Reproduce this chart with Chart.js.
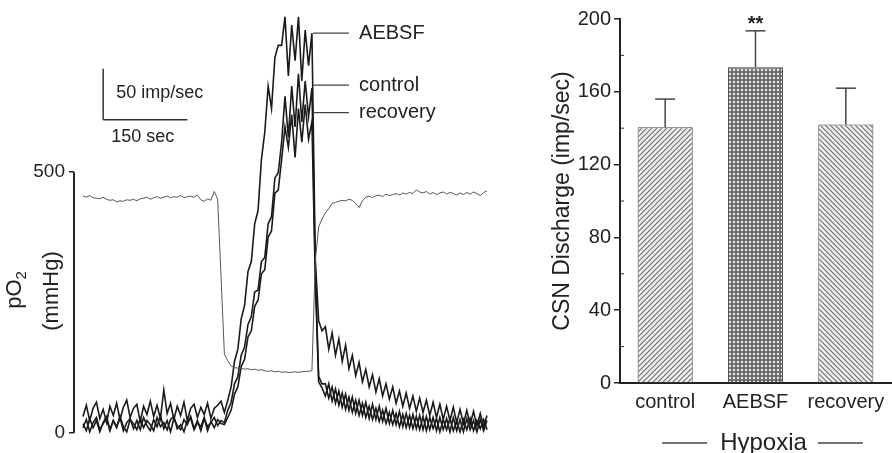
<!DOCTYPE html>
<html>
<head>
<meta charset="utf-8">
<script src="https://cdn.jsdelivr.net/npm/chart.js@4.4.1/dist/chart.umd.min.js"></script>
<style>
  body { margin: 0; background: #fff; }
  #wrap { position: relative; width: 892px; height: 453px; }
  #traceChart { position: absolute; left: 0; top: 0; }
  #barChart { position: absolute; left: 520px; top: 0; }
</style>
</head>
<body>
<div id="wrap">
  <canvas id="traceChart" width="500" height="453"></canvas>
  <canvas id="barChart" width="372" height="453"></canvas>
</div>
<script>
// ---- left panel: recordings, one sample every 6 s ----
const SAMPLE_SEC = 6;

// pO2 in mmHg
const po2 = [
  454, 452, 455, 451, 450, 449, 452, 448, 446, 447, 443, 445, 444, 447, 446, 448, 445, 449, 450, 452,
  448, 451, 453, 450, 452, 454, 451, 453, 452, 455, 451, 453, 454, 452, 456, 447, 444, 449, 446, 463,
  448, 300, 151, 138, 128, 125, 124, 124, 122, 123, 121, 122, 120, 121, 119, 118, 119, 117, 118, 116,
  117, 116, 116, 117, 116, 117, 118, 118, 119, 330, 395, 410, 422, 430, 440, 442, 444, 446, 445, 448,
  446, 440, 432, 445, 452, 454, 451, 455, 456, 453, 458, 455, 457, 459, 456, 460, 458, 461, 459, 466,
  462, 460, 463, 458, 461, 457, 460, 462, 458, 461, 459, 456, 460, 457, 461, 458, 462, 459, 455, 461,
  464
];

// CSN discharge in imp/sec
const aebsf = [
  16, 27, 12, 24, 30, 14, 23, 10, 26, 17, 29, 13, 25, 32, 15, 24, 28, 11, 26, 18,
  31, 16, 27, 14, 42, 19, 29, 13, 26, 17, 30, 12, 24, 28, 15, 25, 18, 29, 14, 24,
  27, 31, 20, 32, 45, 70, 82, 112, 125, 158, 168, 205, 218, 268, 295, 340, 318, 368, 380, 380,
  408, 350, 400, 365, 408, 345, 395, 360, 392, 170, 110, 100, 104, 82, 98, 76, 92, 70, 86, 63,
  76, 56, 69, 50, 62, 45, 57, 40, 53, 36, 48, 33, 45, 29, 41, 26, 39, 24, 36, 21,
  34, 20, 32, 17, 30, 15, 28, 13, 26, 12, 25, 10, 23, 9, 22, 8, 21, 7, 19, 6,
  17
];
const control = [
  9, 2, 14, 5, 12, 1, 10, 16, 3, 12, 6, 15, 2, 10, 14, 4, 12, 3, 15, 7,
  2, 13, 6, 17, 4, 12, 1, 14, 7, 3, 13, 8, 16, 4, 12, 2, 14, 6, 10, 15,
  7, 12, 10, 22, 30, 48, 55, 76, 84, 106, 114, 138, 140, 168, 172, 205, 212, 250, 255, 285,
  330, 290, 340, 300, 352, 305, 345, 310, 338, 160, 55, 48, 48, 34, 45, 29, 41, 25, 38, 22,
  35, 19, 32, 17, 30, 14, 28, 13, 26, 11, 24, 9, 22, 8, 21, 6, 19, 5, 18, 4,
  17, 3, 16, 3, 15, 2, 15, 3, 14, 1, 15, 2, 13, 1, 14, 3, 12, 1, 13, 2,
  12
];
const recovery = [
  5, 13, 1, 10, 15, 3, 9, 14, 2, 12, 5, 16, 6, 1, 13, 9, 3, 14, 5, 12,
  8, 2, 15, 6, 10, 3, 13, 16, 4, 8, 1, 12, 14, 3, 10, 6, 15, 2, 11, 5,
  13, 9, 8, 15, 22, 38, 45, 65, 72, 94, 100, 124, 130, 156, 160, 192, 198, 235, 238, 268,
  300, 280, 312, 270, 318, 285, 322, 288, 305, 150, 50, 44, 36, 48, 31, 43, 27, 39, 23, 35,
  20, 32, 17, 29, 15, 26, 13, 24, 11, 22, 9, 20, 8, 19, 6, 18, 5, 17, 4, 16,
  3, 16, 2, 15, 4, 14, 1, 13, 3, 14, 2, 12, 1, 13, 3, 14, 2, 12, 4, 13,
  3
];

// ---- right panel: mean discharge during hypoxia ----
const categories = ['control', 'AEBSF', 'recovery'];
const meanRate = [140.5, 173.5, 142];
const semRate = [15.5, 20, 20];
const significance = ['', '**', ''];

const FONT = "'Liberation Sans', Arial, sans-serif";
Chart.defaults.font.family = FONT;
Chart.defaults.color = '#222';

const time = po2.map((_, i) => i * SAMPLE_SEC);
const pts = arr => arr.map((v, i) => ({ x: time[i], y: v }));

function line(ctx, x1, y1, x2, y2) {
  ctx.beginPath();
  ctx.moveTo(x1, y1);
  ctx.lineTo(x2, y2);
  ctx.stroke();
}

// scale bar and trace labels, placed in data units
const scaleBar = { t: 36, rate: 307, dt: 150, dr: 50 };
const traceLabels = [
  { text: 'AEBSF', rate: 392 },
  { text: 'control', rate: 341 },
  { text: 'recovery', rate: 314 }
];

const traceDecor = {
  id: 'traceDecor',
  afterDraw(chart) {
    const { ctx, chartArea, scales: { x, y, yd } } = chart;
    ctx.save();
    ctx.strokeStyle = '#222';
    ctx.fillStyle = '#222';

    // pO2 axis only between 0 and 500
    ctx.lineWidth = 2;
    line(ctx, chartArea.left, y.getPixelForValue(0), chartArea.left, y.getPixelForValue(500));

    // axis title pO2 / (mmHg)
    ctx.save();
    ctx.translate(21, 290);
    ctx.rotate(-Math.PI / 2);
    ctx.font = '22px ' + FONT;
    const w1 = ctx.measureText('pO').width;
    ctx.font = '15px ' + FONT;
    const w2 = ctx.measureText('2').width;
    ctx.textBaseline = 'alphabetic';
    ctx.textAlign = 'left';
    ctx.font = '22px ' + FONT;
    ctx.fillText('pO', -(w1 + w2) / 2, 0);
    ctx.font = '15px ' + FONT;
    ctx.fillText('2', -(w1 + w2) / 2 + w1, 5);
    ctx.restore();

    ctx.save();
    ctx.translate(52, 291);
    ctx.rotate(-Math.PI / 2);
    ctx.font = '22px ' + FONT;
    ctx.textAlign = 'center';
    ctx.textBaseline = 'middle';
    ctx.fillText('(mmHg)', 0, 0);
    ctx.restore();

    // scale bar
    const sx = x.getPixelForValue(scaleBar.t);
    const sy = yd.getPixelForValue(scaleBar.rate);
    ctx.strokeStyle = '#333';
    ctx.lineWidth = 1.5;
    line(ctx, sx, sy, sx, yd.getPixelForValue(scaleBar.rate + scaleBar.dr));
    line(ctx, sx, sy, x.getPixelForValue(scaleBar.t + scaleBar.dt), sy);
    ctx.font = '18px ' + FONT;
    ctx.textAlign = 'left';
    ctx.textBaseline = 'middle';
    ctx.fillText('50 imp/sec', sx + 13, sy - 27);
    ctx.fillText('150 sec', sx + 8, sy + 17);

    // trace labels with leader lines
    ctx.font = '20px ' + FONT;
    ctx.strokeStyle = '#444';
    ctx.lineWidth = 1.2;
    traceLabels.forEach(l => {
      const ly = yd.getPixelForValue(l.rate);
      line(ctx, x.getPixelForValue(410), ly, x.getPixelForValue(474), ly);
      ctx.fillText(l.text, x.getPixelForValue(492), ly);
    });
    ctx.restore();
  }
};

new Chart(document.getElementById('traceChart'), {
  type: 'line',
  data: {
    datasets: [
      { label: 'pO2', data: pts(po2), yAxisID: 'y', borderColor: '#555', borderWidth: 1 },
      { label: 'recovery', data: pts(recovery), yAxisID: 'yd', borderColor: '#1a1a1a', borderWidth: 1.6 },
      { label: 'control', data: pts(control), yAxisID: 'yd', borderColor: '#1a1a1a', borderWidth: 1.6 },
      { label: 'AEBSF', data: pts(aebsf), yAxisID: 'yd', borderColor: '#1a1a1a', borderWidth: 1.6 }
    ]
  },
  options: {
    responsive: false,
    animation: false,
    layout: { padding: { top: 3, right: 10, bottom: 11, left: 0 } },
    elements: { point: { radius: 0 }, line: { tension: 0 } },
    plugins: { legend: { display: false }, tooltip: { enabled: false } },
    scales: {
      x: { type: 'linear', display: false, min: -16, max: 725.35 },
      y: {
        position: 'left',
        min: -9.2,
        max: 800.7,
        afterFit: s => { s.width = 74; },
        afterBuildTicks: s => { s.ticks = [{ value: 0 }, { value: 500 }]; },
        border: { display: false },
        grid: { drawOnChartArea: false, tickLength: 5, color: '#222', lineWidth: 1.5 },
        ticks: { font: { size: 19 }, color: '#222', padding: 4 }
      },
      yd: { display: false, min: -4.72, max: 409.4 }
    }
  },
  plugins: [traceDecor]
});

// ---- bar fills ----
const barCtx = document.getElementById('barChart').getContext('2d');
function hatch(dir) {
  const s = 5, c = document.createElement('canvas');
  c.width = c.height = s;
  const g = c.getContext('2d');
  g.fillStyle = '#f0f0f0';
  g.fillRect(0, 0, s, s);
  g.strokeStyle = '#707070';
  g.lineWidth = 1.2;
  g.beginPath();
  if (dir > 0) {
    g.moveTo(0, s); g.lineTo(s, 0);
    g.moveTo(-1, 1); g.lineTo(1, -1);
    g.moveTo(s - 1, s + 1); g.lineTo(s + 1, s - 1);
  } else {
    g.moveTo(0, 0); g.lineTo(s, s);
    g.moveTo(-1, s - 1); g.lineTo(1, s + 1);
    g.moveTo(s - 1, -1); g.lineTo(s + 1, 1);
  }
  g.stroke();
  return barCtx.createPattern(c, 'repeat');
}
function dots() {
  const s = 4, c = document.createElement('canvas');
  c.width = c.height = s;
  const g = c.getContext('2d');
  g.fillStyle = '#6a6a6a';
  g.fillRect(0, 0, s, s);
  g.fillStyle = '#e6e6e6';
  g.beginPath();
  g.arc(2, 2, 1.25, 0, Math.PI * 2);
  g.fill();
  return barCtx.createPattern(c, 'repeat');
}

const barDecor = {
  id: 'barDecor',
  afterDatasetsDraw(chart) {
    const { ctx, chartArea, scales: { y } } = chart;
    const meta = chart.getDatasetMeta(0);
    ctx.save();
    ctx.strokeStyle = '#444';
    ctx.fillStyle = '#222';
    ctx.lineWidth = 1.5;
    meta.data.forEach((bar, i) => {
      const top = y.getPixelForValue(meanRate[i] + semRate[i]);
      line(ctx, bar.x, bar.y, bar.x, top);
      line(ctx, bar.x - 10, top, bar.x + 10, top);
      if (significance[i]) {
        ctx.font = 'bold 20px ' + FONT;
        ctx.textAlign = 'center';
        ctx.textBaseline = 'alphabetic';
        ctx.fillText(significance[i], bar.x, top - 1);
      }
    });
    // minor ticks
    ctx.strokeStyle = '#333';
    ctx.lineWidth = 1;
    for (let v = 20; v < 200; v += 40) {
      const py = y.getPixelForValue(v);
      line(ctx, chartArea.left + 1, py, chartArea.left + 4, py);
    }
    // group label
    const cx = (chartArea.left + chartArea.right) / 2 + 8;
    const ty = 443;
    ctx.font = '24px ' + FONT;
    ctx.textAlign = 'center';
    ctx.textBaseline = 'middle';
    ctx.fillText('Hypoxia', cx, ty);
    const hw = ctx.measureText('Hypoxia').width / 2;
    ctx.strokeStyle = '#444';
    ctx.lineWidth = 1.3;
    line(ctx, cx - hw - 58, ty, cx - hw - 13, ty);
    line(ctx, cx + hw + 11, ty, cx + hw + 56, ty);
    ctx.restore();
  }
};

new Chart(barCtx, {
  type: 'bar',
  data: {
    labels: categories,
    datasets: [{
      data: meanRate,
      backgroundColor: [hatch(1), dots(), hatch(-1)],
      borderColor: '#444',
      borderWidth: 1,
      barPercentage: 0.61,
      categoryPercentage: 1
    }]
  },
  options: {
    responsive: false,
    animation: false,
    layout: { padding: { top: 19, right: 1, bottom: 0, left: 0 } },
    plugins: { legend: { display: false }, tooltip: { enabled: false } },
    scales: {
      x: {
        grid: { display: false, drawTicks: false },
        border: { color: '#222', width: 2 },
        ticks: { font: { size: 20 }, color: '#222', padding: 7 },
        afterFit: s => { s.height = 70; }
      },
      y: {
        min: 0,
        max: 200,
        ticks: { stepSize: 40, font: { size: 20 }, color: '#222', padding: 3 },
        grid: { drawOnChartArea: false, tickLength: 6, color: '#222', lineWidth: 1.5 },
        border: { color: '#222', width: 2 },
        afterFit: s => { s.width = 100; },
        title: {
          display: true,
          text: 'CSN Discharge (imp/sec)',
          font: { size: 23 },
          color: '#222',
          padding: { top: 29, bottom: 0 }
        }
      }
    }
  },
  plugins: [barDecor]
});
</script>
</body>
</html>
